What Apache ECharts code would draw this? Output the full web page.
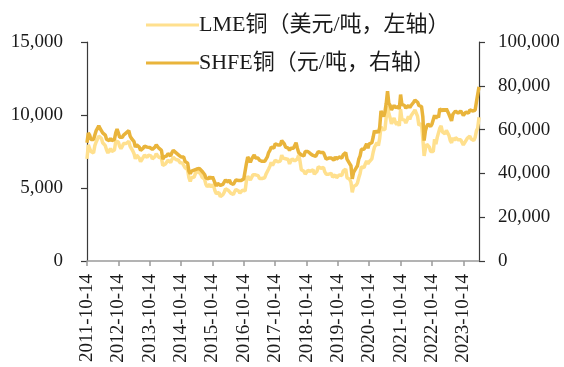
<!DOCTYPE html>
<html>
<head>
<meta charset="utf-8">
<script src="https://cdn.jsdelivr.net/npm/echarts@6/dist/echarts.min.js"></script>
<style>
  html, body { margin: 0; padding: 0; background: #fff; }
  #chart { width: 564px; height: 367px; }
</style>
</head>
<body>
<div id="chart"></div>
<script>
// Copper prices, sampled on the 14th and 28th of each month (2011-10-14 .. 2024-04-14)
const lmeName = 'LME铜（美元/吨，左轴）';
const shfeName = 'SHFE铜（元/吨，右轴）';

// LME copper, USD/t
const lmeCopper = [
  // 2011 (Oct-Dec)
  7000, 7950, 7700, 7500, 7450, 7400,
  // 2012
  7900, 8150, 8250, 8550, 8450, 8400, 8100, 8200, 7900, 7600, 7400, 7550,
  7700, 7500, 7450, 7600, 8200, 8300, 8150, 7850, 7700, 7850, 8050, 7950,
  // 2013
  8050, 8100, 8200, 7850, 7700, 7550, 7350, 7000, 7250, 7300, 7050, 6800,
  6950, 7000, 7250, 7200, 7100, 7250, 7200, 7200, 7000, 7050, 7150, 7350,
  // 2014
  7300, 7100, 7150, 7050, 6550, 6650, 6650, 6700, 6900, 6850, 6750, 6950,
  7100, 7150, 6950, 7000, 6900, 6750, 6650, 6700, 6650, 6400, 6400, 6250,
  // 2015
  5700, 5450, 5700, 5800, 5750, 6000, 5950, 6150, 6150, 5950, 5750, 5750,
  5600, 5250, 5100, 5100, 5250, 5050, 5250, 5100, 4800, 4600, 4650, 4700,
  // 2016
  4400, 4500, 4550, 4700, 4950, 4900, 4850, 4950, 4650, 4650, 4550, 4750,
  4900, 4950, 4800, 4650, 4750, 4850, 4750, 4800, 5500, 5800, 5750, 5550,
  // 2017
  5650, 5900, 6000, 5900, 5800, 5850, 5650, 5700, 5650, 5650, 5700, 5950,
  5950, 6300, 6500, 6750, 6550, 6500, 6900, 6900, 6800, 6900, 6850, 7250,
  // 2018
  7050, 7150, 7000, 6900, 6950, 6650, 6850, 7000, 6900, 6850, 6900, 7000,
  7250, 6850, 6250, 6200, 6150, 5950, 5900, 6200, 6300, 6150, 6050, 6250,
  // 2019
  5950, 6050, 6150, 6450, 6400, 6350, 6450, 6400, 6100, 5950, 5850, 5950,
  5950, 6000, 5750, 5650, 5900, 5700, 5750, 5900, 5850, 5850, 6150, 6200,
  // 2020
  6300, 5700, 5700, 5600, 5400, 4700, 5100, 5200, 5200, 5350, 5700, 6000,
  6450, 6400, 6400, 6650, 6850, 6650, 6800, 6750, 7000, 7450, 7800, 7850,
  // 2021
  8100, 7900, 8400, 9200, 9000, 8900, 9000, 9850, 10600, 10100, 9800, 9400,
  9500, 9800, 9500, 9350, 9550, 9250, 10400, 9700, 9700, 9650, 9450, 9650,
  // 2022
  9900, 9700, 9950, 9900, 10200, 10350, 10300, 9900, 9300, 9400, 9400, 8400,
  7200, 7700, 8000, 8000, 7800, 7500, 7600, 7500, 8350, 8000, 8450, 8400,
  // 2023
  9100, 9250, 8850, 8900, 8700, 8950, 9050, 8600, 8250, 8100, 8450, 8250,
  8450, 8500, 8300, 8350, 8300, 8250, 7950, 8050, 8250, 8400, 8400, 8550,
  // 2024 (Jan-Apr)
  8350, 8400, 8250, 8450, 8900, 9100, 9850
];

// SHFE copper, CNY/t
const shfeCopper = [
  // 2011 (Oct-Dec)
  54000, 58500, 57500, 55500, 56000, 55500,
  // 2012
  57500, 59500, 60500, 61800, 60500, 59500, 58500, 59000, 57500, 55500, 55000, 55000,
  56000, 55000, 55000, 55500, 58500, 60200, 58500, 56500, 56000, 56500, 57500, 57500,
  // 2013
  58500, 59000, 59500, 57000, 56000, 55500, 54500, 52000, 53000, 53000, 52000, 50500,
  51000, 51500, 52500, 52800, 52000, 52000, 51800, 52000, 51000, 51200, 52000, 53000,
  // 2014
  52500, 51500, 51000, 50500, 46500, 47500, 48000, 48000, 49000, 49000, 48000, 49500,
  50500, 51000, 49500, 49500, 48500, 47800, 47500, 47800, 47500, 45500, 45000, 44700,
  // 2015
  41000, 39800, 41000, 41800, 41500, 41800, 42000, 42000, 42300, 42000, 41000, 40500,
  39500, 38000, 37500, 37500, 38500, 37500, 38500, 37000, 35500, 34300, 35500, 35700,
  // 2016
  34500, 34300, 35000, 35500, 37000, 36500, 36000, 37000, 35500, 35000, 35000, 36000,
  37000, 37200, 36800, 36000, 36800, 36500, 37500, 38000, 44500, 47500, 46500, 45000,
  // 2017
  46500, 47500, 48500, 47000, 47000, 47000, 46000, 46000, 45500, 45500, 45500, 46500,
  47500, 49500, 50500, 52000, 51500, 51500, 53500, 54000, 53000, 52500, 53000, 55000,
  // 2018
  54500, 53500, 52000, 52500, 51500, 50500, 51500, 52000, 51500, 51500, 54000, 51500,
  49500, 49500, 48500, 48500, 48000, 50000, 50500, 50000, 49500, 49000, 49000, 48200,
  // 2019
  47500, 47800, 48500, 50000, 49800, 49500, 50000, 49500, 48000, 46500, 46500, 47000,
  47000, 47000, 46500, 46000, 47500, 46500, 46800, 47500, 47000, 47000, 48500, 49200,
  // 2020
  49500, 46500, 45500, 44500, 43500, 37500, 40500, 41500, 42500, 43500, 46500, 48000,
  51000, 51500, 51000, 51500, 53500, 51500, 53500, 53000, 54000, 56500, 59500, 58500,
  // 2021
  59500, 58500, 61000, 68500, 67000, 66000, 68000, 72000, 77500, 72000, 71000, 69000,
  69500, 71000, 70000, 69500, 70500, 69500, 76000, 71500, 71500, 71000, 69800, 70000,
  // 2022
  71000, 70000, 71000, 71500, 72500, 73500, 74000, 72500, 71000, 71500, 70500, 66000,
  55000, 59500, 61500, 62500, 62000, 61500, 62500, 63000, 66500, 65000, 66500, 65500,
  // 2023
  69500, 70000, 68500, 69500, 68500, 69500, 69000, 67000, 65500, 64000, 67000, 67500,
  68500, 68800, 67500, 68000, 68500, 67500, 66500, 67000, 68000, 67500, 67500, 69000,
  // 2024 (Jan-Apr)
  68500, 68500, 67800, 68800, 72500, 73000, 79500
];

// Sample dates: 14th and 28th of every month, ending on 2024-04-14
const dates = [];
(function buildDates() {
  const pad = n => (n < 10 ? '0' + n : '' + n);
  let y = 2011, m = 10;
  while (true) {
    dates.push(y + '-' + pad(m) + '-14');
    if (y === 2024 && m === 4) break;
    dates.push(y + '-' + pad(m) + '-28');
    m += 1;
    if (m > 12) { m = 1; y += 1; }
  }
})();

// Axis tick labels: one per year on October 14th
const yearTickSuffix = '-10-14';
const isYearTick = (idx, value) => String(value).endsWith(yearTickSuffix);

const leftTicks = { min: 0, max: 15000, interval: 5000 };
const rightTicks = { min: 0, max: 100000, interval: 20000 };

const FONT = '"Liberation Serif", "Times New Roman", "Noto Sans CJK SC", serif';
const fmt = v => Number(v).toLocaleString('en-US');

const LME_COLOR = '#ffe08e';
const SHFE_COLOR = '#e9b43b';

const chart = echarts.init(document.getElementById('chart'), null, { renderer: 'canvas' });
chart.setOption({
  animation: false,
  backgroundColor: '#ffffff',
  textStyle: { fontFamily: FONT },
  grid: { left: 87, right: 85, top: 42, bottom: 106, containLabel: false },
  legend: {
    orient: 'vertical',
    left: 141,
    top: 9,
    icon: 'rect',
    itemWidth: 53,
    itemHeight: 3,
    itemGap: 16,
    data: [lmeName, shfeName],
    textStyle: { fontFamily: FONT, fontSize: 22, color: '#1a1a1a', padding: [0, 0, 0, -5] }
  },
  xAxis: {
    type: 'category',
    data: dates,
    boundaryGap: false,
    axisLine: { lineStyle: { color: '#9a9a9a', width: 1.5 } },
    axisTick: { show: true, interval: isYearTick, length: 5, lineStyle: { color: '#9a9a9a', width: 1.5 } },
    axisLabel: {
      interval: isYearTick,
      rotate: 90,
      margin: 13,
      fontFamily: FONT,
      fontSize: 19,
      color: '#1a1a1a'
    },
    splitLine: { show: false }
  },
  yAxis: [
    {
      type: 'value',
      position: 'left',
      min: leftTicks.min,
      max: leftTicks.max,
      interval: leftTicks.interval,
      axisLine: { show: true, lineStyle: { color: '#3a3a3a', width: 1.2 } },
      axisTick: { show: true, length: 6, lineStyle: { color: '#3a3a3a', width: 1.2 } },
      axisLabel: { margin: 24, fontFamily: FONT, fontSize: 19, color: '#1a1a1a', formatter: fmt },
      splitLine: { show: false }
    },
    {
      type: 'value',
      position: 'right',
      min: rightTicks.min,
      max: rightTicks.max,
      interval: rightTicks.interval,
      axisLine: { show: true, lineStyle: { color: '#3a3a3a', width: 1.2 } },
      axisTick: { show: true, length: 6, lineStyle: { color: '#3a3a3a', width: 1.2 } },
      axisLabel: { margin: 19, fontFamily: FONT, fontSize: 19, color: '#1a1a1a', formatter: fmt },
      splitLine: { show: false }
    }
  ],
  series: [
    {
      name: lmeName,
      type: 'line',
      yAxisIndex: 0,
      data: lmeCopper,
      symbol: 'none',
      color: LME_COLOR,
      itemStyle: { color: LME_COLOR },
      lineStyle: { color: LME_COLOR, width: 3.5 }
    },
    {
      name: shfeName,
      type: 'line',
      yAxisIndex: 1,
      data: shfeCopper,
      symbol: 'none',
      color: SHFE_COLOR,
      itemStyle: { color: SHFE_COLOR },
      lineStyle: { color: SHFE_COLOR, width: 3.5 }
    }
  ]
});
</script>
</body>
</html>
